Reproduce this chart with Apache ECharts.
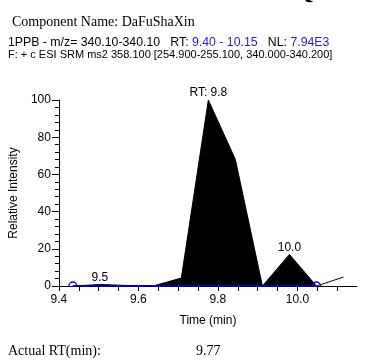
<!DOCTYPE html>
<html>
<head>
<meta charset="utf-8">
<script src="https://cdn.jsdelivr.net/npm/echarts@6/dist/echarts.min.js"></script>
<style>
html,body{margin:0;padding:0;background:#fff;}
#c{width:383px;height:361px;}
</style>
</head>
<body>
<div id="c"></div>
<script>
// Data
var times = [9.435, 9.503, 9.571, 9.640, 9.708, 9.776, 9.844, 9.912, 9.980, 10.048, 10.116];
var intensity = [0, 0.8, 0.3, 0.2, 4.3, 100, 68, 0, 17, 0, 4.8];
var peakLabels = {1: '9.5', 5: 'RT: 9.8', 8: '10.0'};
var integStart = 0, integEnd = 9; // indices of integration limits
var xTicks = [9.4, 9.45, 9.5, 9.55, 9.6, 9.65, 9.7, 9.75, 9.8, 9.85, 9.9, 9.95, 10.0, 10.05, 10.1];
var xLabels = [9.4, 9.6, 9.8, 10.0];

var SANS = 'Liberation Sans';
var SERIF = 'Liberation Serif';

function pts(a, b) {
  var out = [];
  for (var i = a; i <= b; i++) out.push([times[i], intensity[i]]);
  return out;
}
var labelPts = [];
for (var k in peakLabels) {
  labelPts.push({value: [times[k], intensity[k]], label: {formatter: peakLabels[k]}});
}

var chart = echarts.init(document.getElementById('c'));
chart.setOption({
  animation: false,
  grid: {left: 57, right: 26, top: 100, bottom: 75},
  xAxis: {
    type: 'value', min: 9.4, max: 10.15,
    name: 'Time (min)', nameLocation: 'middle', nameGap: 29,
    nameTextStyle: {fontFamily: SANS, fontSize: 12, color: '#000'},
    axisLine: {show: true, onZero: false, lineStyle: {color: '#000', width: 1}},
    axisTick: {show: true, customValues: xTicks, length: 5, lineStyle: {color: '#000'}},
    axisLabel: {customValues: xLabels, margin: 8, color: '#000', fontFamily: SANS, fontSize: 12,
      formatter: function (v) { return v.toFixed(1); }},
    splitLine: {show: false}
  },
  yAxis: {
    type: 'value', min: 0, max: 100, interval: 20,
    name: 'Relative Intensity', nameLocation: 'middle', nameGap: 36,
    nameTextStyle: {fontFamily: SANS, fontSize: 12, color: '#000'},
    axisLine: {show: true, lineStyle: {color: '#000', width: 1}},
    axisTick: {show: true, length: 7, lineStyle: {color: '#000'}},
    minorTick: {show: true, splitNumber: 5, length: 4, lineStyle: {color: '#000'}},
    axisLabel: {margin: 8, color: '#000', fontFamily: SANS, fontSize: 12},
    splitLine: {show: false}
  },
  series: [
    {
      type: 'line', data: pts(integStart, integEnd), symbol: 'none', z: 2,
      lineStyle: {color: '#000', width: 1},
      areaStyle: {color: '#000', opacity: 1, origin: 'start'}
    },
    {
      type: 'line', data: pts(integEnd, times.length - 1), symbol: 'none', z: 2,
      lineStyle: {color: '#000', width: 1}
    },
    {
      type: 'line', data: [[times[integStart], 0], [times[integEnd], 0]], symbol: 'none', z: 3,
      lineStyle: {color: '#0000ff', width: 1.5}
    },
    {
      type: 'custom', z: 4,
      data: [[times[integStart], 0], [times[integEnd], 0]],
      renderItem: function (params, api) {
        var p = api.coord([api.value(0), api.value(1)]);
        return {type: 'arc', shape: {cx: p[0], cy: p[1], r: 4, startAngle: Math.PI, endAngle: 2 * Math.PI},
          style: {stroke: '#0000ff', fill: null, lineWidth: 1.3}};
      }
    },
    {
      type: 'scatter', data: labelPts, symbolSize: 0, z: 5,
      itemStyle: {color: '#000', opacity: 1},
      label: {show: true, position: 'top', distance: 1, color: '#000', opacity: 1, fontFamily: SANS, fontSize: 12}
    }
  ],
  graphic: [
    {type: 'text', left: 295, top: -19, style: {text: 'Quan', font: 'bold 24px ' + SERIF, fill: '#000'}},
    {type: 'text', left: 12, top: 15, style: {text: 'Component Name: DaFuShaXin', font: '14px ' + SERIF, fill: '#000'}},
    {type: 'text', left: 8, top: 37, style: {
      text: '{k|1PPB - m/z= 340.10-340.10   RT: }{b|9.40 - 10.15}{k|   NL: }{b|7.94E3}',
      rich: {k: {fontFamily: SANS, fontSize: 12.3, fill: '#000'}, b: {fontFamily: SANS, fontSize: 12.3, fill: '#1f1fd0'}}
    }},
    {type: 'text', left: 8, top: 49, style: {text: 'F: + c ESI SRM ms2 358.100 [254.900-255.100, 340.000-340.200]', font: '11px ' + SANS, fill: '#000'}},
    {type: 'text', left: 8, top: 344, style: {text: 'Actual RT(min):', font: '14px ' + SERIF, fill: '#000'}},
    {type: 'text', left: 196, top: 344, style: {text: '9.77', font: '14px ' + SERIF, fill: '#000'}}
  ]
});
</script>
</body>
</html>
